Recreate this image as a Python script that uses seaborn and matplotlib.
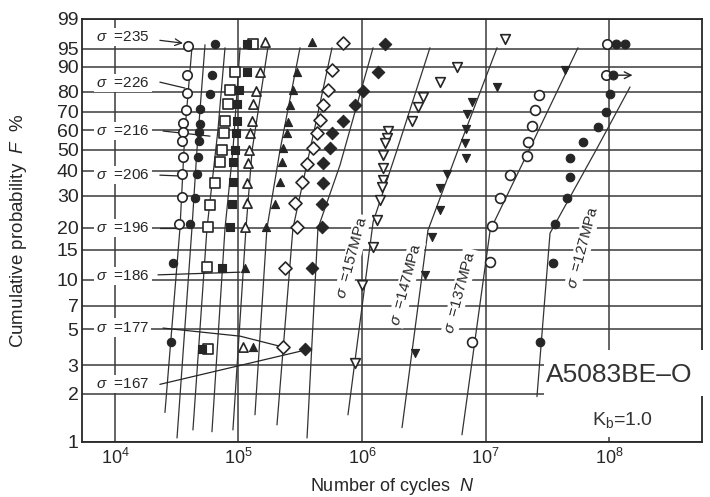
import numpy as np
import matplotlib
matplotlib.use('Agg')
import matplotlib.pyplot as plt
import seaborn as sns

# --- fatigue data (N cycles, F %) ---
n_235 = [3.90e4, 3.83e4, 3.83e4, 3.76e4, 3.55e4, 3.55e4, 3.49e4, 3.55e4, 3.49e4, 3.49e4, 3.30e4]
f_235 = [95.6, 87.0, 79.3, 70.8, 63.9, 59.1, 54.4, 46.4, 38.6, 29.5, 21.0]
n_226 = [6.45e4, 6.10e4, 5.88e4, 4.88e4, 4.88e4, 4.79e4, 4.79e4, 4.70e4, 4.61e4, 4.44e4, 4.05e4, 2.95e4, 2.84e4]
f_226 = [95.9, 87.0, 78.8, 71.3, 63.4, 59.1, 54.4, 46.4, 38.6, 29.1, 21.0, 12.6, 4.2]
n_216 = [1.31e5, 9.37e4, 8.53e4, 8.22e4, 7.78e4, 7.63e4, 7.35e4, 7.08e4, 6.45e4, 5.88e4, 5.66e4, 5.56e4, 5.66e4]
f_216 = [95.9, 88.2, 80.7, 73.9, 65.0, 58.6, 49.8, 44.0, 34.8, 26.7, 20.2, 11.9, 3.8]
n_206 = [1.17e5, 1.17e5, 1.01e5, 9.72e4, 9.72e4, 9.55e4, 9.37e4, 9.02e4, 9.02e4, 8.86e4, 8.53e4, 7.35e4, 5.06e4]
f_206 = [95.9, 88.2, 80.7, 73.9, 65.0, 58.6, 49.8, 44.0, 35.2, 27.1, 20.2, 11.7, 3.8]
n_196 = [1.64e5, 1.49e5, 1.39e5, 1.31e5, 1.29e5, 1.24e5, 1.22e5, 1.19e5, 1.17e5, 1.17e5, 1.13e5, 1.09e5]
f_196 = [96.3, 88.2, 80.2, 73.9, 65.0, 58.6, 49.8, 43.5, 34.8, 27.4, 20.2, 3.9]
n_186 = [3.94e5, 2.98e5, 2.76e5, 2.61e5, 2.52e5, 2.47e5, 2.29e5, 2.25e5, 2.17e5, 1.98e5, 1.67e5, 1.13e5, 1.31e5]
f_186 = [96.3, 88.2, 80.7, 73.4, 64.5, 58.6, 50.8, 44.0, 35.2, 27.1, 20.2, 11.7, 3.9]
n_177 = [7.02e5, 5.72e5, 5.31e5, 4.83e5, 4.57e5, 4.32e5, 4.01e5, 3.59e5, 3.27e5, 2.87e5, 2.98e5, 2.38e5, 2.29e5]
f_177 = [96.1, 88.9, 80.7, 73.4, 65.5, 58.6, 50.8, 43.1, 35.2, 27.4, 20.2, 11.7, 3.9]
n_167 = [1.53e6, 1.35e6, 1.02e6, 8.77e5, 7.02e5, 5.72e5, 5.51e5, 4.83e5, 4.83e5, 4.74e5, 4.74e5, 3.94e5, 3.45e5]
f_167 = [95.9, 88.2, 80.2, 73.4, 65.0, 58.6, 50.8, 43.5, 34.8, 27.1, 20.2, 11.7, 3.8]
n_157 = [1.44e7, 5.88e6, 4.28e6, 3.12e6, 2.84e6, 2.54e6, 1.62e6, 1.59e6, 1.53e6, 1.48e6, 1.48e6,
         1.48e6, 1.45e6, 1.40e6, 1.32e6, 1.23e6, 1.00e6, 8.77e5]
f_157 = [96.8, 90.1, 84.2, 77.4, 72.4, 65.0, 59.7, 56.0, 53.4, 47.3, 41.2,
         36.0, 33.2, 28.4, 22.1, 15.6, 9.3, 3.1]
n_147 = [4.4e7, 1.24e7, 7.78e6, 7.08e6, 6.95e6, 6.83e6, 6.95e6, 4.88e6, 4.28e6, 4.28e6, 3.69e6, 3.24e6, 2.69e6]
f_147 = [88.9, 82.1, 74.9, 68.7, 60.7, 53.4, 45.9, 38.6, 32.8, 25.1, 17.8, 10.7, 3.6]
n_137 = [2.71e7, 2.52e7, 2.38e7, 2.21e7, 2.17e7, 1.58e7, 1.31e7, 1.13e7, 1.09e7, 7.78e6]
f_137 = [78.3, 70.8, 62.3, 53.9, 46.8, 38.1, 29.1, 20.5, 12.7, 4.2]
n_127 = [1.02e8, 9.46e7, 8.14e7, 6.15e7, 4.83e7, 4.83e7, 4.57e7, 3.66e7, 3.52e7, 2.76e7]
f_127 = [78.8, 69.8, 61.8, 53.9, 45.9, 37.3, 29.1, 21.0, 12.6, 4.2]
# run-outs at 10^8
n_run_open = [9.6e7, 9.5e7]
f_run_open = [95.9, 87.0]
n_run_fill = [1.14e8, 1.35e8, 1.08e8]
f_run_fill = [95.9, 95.9, 87.0]

# fitted distribution lines
ln_235 = ([4.20e4, 3.69e4, 3.36e4, 2.54e4], [95.2, 60.2, 19.9, 1.53])
ln_226 = ([5.36e4, 4.61e4, 4.20e4, 3.18e4], [95.8, 49.8, 19.9, 1.06])
ln_216 = ([7.78e4, 6.82e4, 5.56e4, 4.28e4], [95.2, 60.2, 19.9, 1.19])
ln_206 = ([1.03e5, 9.02e4, 7.78e4, 6.10e4], [95.2, 49.8, 19.9, 1.16])
ln_196 = ([1.73e5, 1.29e5, 1.15e5, 9.02e4], [95.2, 49.8, 19.9, 1.19])
ln_186 = ([3.15e5, 2.17e5, 1.70e5, 1.36e5], [95.2, 49.8, 19.9, 1.48])
ln_177 = ([5.72e5, 3.79e5, 2.76e5, 2.05e5], [95.2, 49.8, 19.9, 1.28])
ln_167 = ([1.23e6, 6.64e5, 4.40e5, 3.59e5], [95.2, 42.6, 19.9, 1.06])
ln_157 = ([3.55e6, 1.92e6, 1.23e6, 7.70e5], [95.2, 49.8, 21.6, 1.48])
ln_147 = ([1.24e7, 5.99e6, 3.42e6, 2.11e6], [95.2, 49.8, 19.4, 1.23])
ln_137 = ([5.61e7, 2.25e7, 1.09e7, 6.45e6], [95.2, 49.8, 19.4, 1.11])
ln_127 = ([1.48e8, 7.85e7, 3.33e7, 2.61e7], [82.1, 49.8, 18.7, 1.92])

y_ticks = [1, 2, 3, 5, 7, 10, 15, 20, 30, 40, 50, 60, 70, 80, 90, 95, 99]
x_ticks = [1e4, 1e5, 1e6, 1e7, 1e8]
x_tick_labels = ['$10^{4}$', '$10^{5}$', '$10^{6}$', '$10^{7}$', '$10^{8}$']

left_labels = ['235', '226', '216', '206', '196', '186', '177', '167']
left_label_y = [0.957, 0.849, 0.735, 0.631, 0.506, 0.392, 0.270, 0.137]
# leader lines (N, F) start -> end
leaders = [
    [(2.31e4, 96.6), (3.55e4, 96.1)],
    [(2.31e4, 84.2), (3.69e4, 81.6)],
    [(2.45e4, 59.7), (5.88e4, 57.0)],
    [(2.31e4, 38.1), (3.49e4, 37.7)],
    [(2.31e4, 19.9), (3.24e4, 19.9)],
    [(2.23e4, 10.7), (1.03e5, 11.1)],
    [(2.45e4, 5.1), (1.03e5, 4.55), (2.29e5, 3.9)],
    [(2.31e4, 2.29), (3.45e5, 3.73)],
]
rot_labels = ['157', '147', '137', '127']
rot_pos = [(0.4355, 0.436), (0.523, 0.374), (0.610, 0.355), (0.808, 0.461)]

ink = '#262626'

sns.set_theme(style='white')
plt.rcParams['font.family'] = ['Liberation Sans', 'DejaVu Sans']
plt.rcParams['mathtext.fontset'] = 'custom'
plt.rcParams['mathtext.rm'] = 'Liberation Sans'
plt.rcParams['mathtext.it'] = 'Liberation Sans:italic'
plt.rcParams['mathtext.bf'] = 'Liberation Sans:bold'


def fwd(p):
    p = np.clip(np.asarray(p, dtype=float), 1e-4, 99.9999) / 100.0
    return np.log(-np.log(1.0 - p))


def inv(w):
    return 100.0 * (1.0 - np.exp(-np.exp(w)))


fig = plt.figure(figsize=(7.1, 4.97), dpi=100)
ax = fig.add_axes([82 / 710, 55 / 497, 620 / 710, 423 / 497])
ax.set_xscale('log')
ax.set_yscale('function', functions=(fwd, inv))

# fitted lines
for xs, ys in [ln_235, ln_226, ln_216, ln_206, ln_196, ln_186,
               ln_177, ln_167, ln_157, ln_147, ln_137, ln_127]:
    sns.lineplot(x=xs, y=ys, ax=ax, sort=False, estimator=None,
                 color='#333333', lw=0.9, zorder=3)

# points
series = [
    (n_235, f_235, 'o', False, 46),
    (n_226, f_226, 'o', True, 36),
    (n_216, f_216, 's', False, 42),
    (n_206, f_206, 's', True, 36),
    (n_196, f_196, '^', False, 44),
    (n_186, f_186, '^', True, 34),
    (n_177, f_177, 'D', False, 44),
    (n_167, f_167, 'D', True, 40),
    (n_157, f_157, 'v', False, 48),
    (n_147, f_147, 'v', True, 34),
    (n_137, f_137, 'o', False, 50),
    (n_127, f_127, 'o', True, 38),
    (n_run_open, f_run_open, 'o', False, 46),
    (n_run_fill, f_run_fill, 'o', True, 40),
]
for xs, ys, m, filled, s in series:
    if filled:
        sns.scatterplot(x=xs, y=ys, ax=ax, marker=m, s=s, color=ink,
                        edgecolor=ink, linewidth=0.8, zorder=5)
    else:
        sns.scatterplot(x=xs, y=ys, ax=ax, marker=m, s=s, facecolor='white',
                        edgecolor=ink, linewidth=1.2, zorder=5)

ax.set_xlim(5.41e3, 5.66e8)
ax.set_ylim(1, 99)
ax.set_xticks(x_ticks)
ax.set_xticklabels(x_tick_labels)
ax.xaxis.set_minor_locator(matplotlib.ticker.NullLocator())
ax.set_yticks(y_ticks)
ax.set_yticklabels([str(v) for v in y_ticks])
ax.yaxis.set_minor_locator(matplotlib.ticker.NullLocator())
ax.tick_params(axis='both', direction='in', length=4, width=1.0, color=ink,
               labelcolor=ink)
ax.tick_params(axis='x', labelsize=13, pad=4)
ax.tick_params(axis='y', labelsize=14, pad=2.5)
ax.grid(True, color='#3a3a3a', lw=1.1)
ax.set_axisbelow(True)
for sp in ax.spines.values():
    sp.set_color(ink)
    sp.set_linewidth(1.3)

ax.set_xlabel('Number of cycles  $\\it{N}$', fontsize=13, color=ink, labelpad=6)
ax.set_ylabel('Cumulative probability  $\\it{F}$  %', fontsize=13.5, color=ink,
              labelpad=20)

# stress labels on the left with leader lines
for lab, fy in zip(left_labels, left_label_y):
    ax.text(0.0226, fy, '$\\it{\\sigma}$  =' + lab, transform=ax.transAxes,
            fontsize=11, color=ink, ha='left', va='center', zorder=6,
            bbox=dict(boxstyle='square,pad=0.15', fc='white', ec='none'))
for i, pts in enumerate(leaders):
    xs = [p[0] for p in pts]
    ys = [p[1] for p in pts]
    if i == 0:
        ax.annotate('', xy=(xs[1], ys[1]), xytext=(xs[0], ys[0]),
                    arrowprops=dict(arrowstyle='->', color=ink, lw=0.9,
                                    shrinkA=0, shrinkB=0), zorder=4)
    else:
        ax.plot(xs, ys, color=ink, lw=0.9, zorder=4)

# run-out arrow
ax.annotate('', xy=(1.55e8, 87.0), xytext=(1.10e8, 87.0),
            arrowprops=dict(arrowstyle='->', color=ink, lw=1.0,
                            shrinkA=0, shrinkB=0), zorder=6)

# rotated labels along the lower stress lines
for lab, (fx, fy) in zip(rot_labels, rot_pos):
    ax.text(fx, fy, '$\\it{\\sigma}$  =' + lab + 'MPa', transform=ax.transAxes,
            rotation=75, fontsize=11, color=ink, ha='center', va='center',
            zorder=6, rotation_mode='anchor',
            bbox=dict(boxstyle='square,pad=0.1', fc='white', ec='none'))

# material / Kb label boxes
ax.add_patch(plt.Rectangle((0.745, 0.109), 0.30, 0.109, transform=ax.transAxes,
                           fc='white', ec='none', zorder=5.5, clip_on=False))
ax.add_patch(plt.Rectangle((0.811, 0.012), 0.141, 0.097, transform=ax.transAxes,
                           fc='white', ec='none', zorder=5.5, clip_on=False))
ax.text(0.748, 0.142, 'A5083BE\u2013O', transform=ax.transAxes, fontsize=19,
        color='#333333', ha='left', va='baseline', zorder=6, clip_on=False)
ax.text(0.823, 0.052, 'K$_\\mathrm{b}$=1.0', transform=ax.transAxes, fontsize=14,
        color='#333333', ha='left', va='center', zorder=6)

fig.savefig('out.png', dpi=100)
